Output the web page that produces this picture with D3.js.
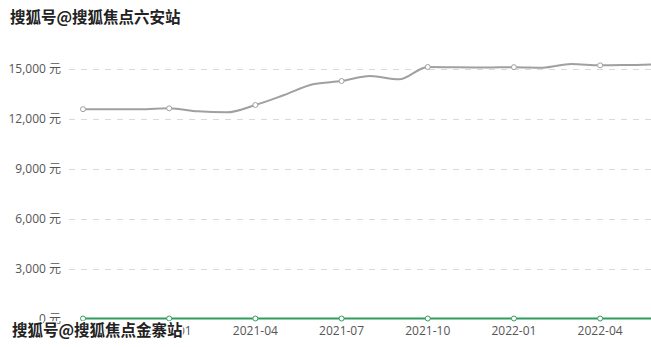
<!DOCTYPE html>
<html>
<head>
<meta charset="utf-8">
<script src="https://cdn.jsdelivr.net/npm/d3@7"></script>
<style>
  body { margin: 0; background: #fff; }
  svg { display: block; font-family: "Open Sans", "Noto Sans CJK SC", sans-serif; }
</style>
</head>
<body>
<div id="chart"></div>
<script>
// monthly data, 2020-10 .. 2022-06
var months = ["2020-10","2020-11","2020-12","2021-01","2021-02","2021-03","2021-04","2021-05","2021-06",
  "2021-07","2021-08","2021-09","2021-10","2021-11","2021-12","2022-01","2022-02","2022-03","2022-04","2022-05","2022-06"];
var priceA = [12560,12560,12550,12610,12430,12370,12810,13410,14050,14250,14550,14350,15090,15070,15060,15080,15050,15270,15190,15210,15240];
var priceB = [0,0,0,0,0,0,0,0,0,0,0,0,0,0,0,0,0,0,0,0,0];
var yTicks = [0,3000,6000,9000,12000,15000];
var xLabels = ["2020-10","2021-01","2021-04","2021-07","2021-10","2022-01","2022-04"];

var width = 651, height = 347;
var svg = d3.select("#chart").append("svg")
  .attr("width", width).attr("height", height);

// plot area runs past the right edge, like the original screenshot
var x = d3.scalePoint().domain(months).range([83, 657.6]);
var y = d3.scaleLinear().domain([0, 15000]).range([318.5, 68.5]);

// grid
svg.append("g").selectAll("line")
  .data(yTicks.filter(function(d){ return d > 0; }))
  .enter().append("line")
  .attr("x1", 69).attr("x2", width)
  .attr("y1", function(d){ return Math.round(y(d)) + 0.5; })
  .attr("y2", function(d){ return Math.round(y(d)) + 0.5; })
  .attr("stroke", "#d9d9d9").attr("stroke-dasharray", "6,6");

// y labels
svg.append("g").selectAll("text")
  .data(yTicks)
  .enter().append("text")
  .attr("x", 61).attr("y", function(d){ return y(d); })
  .attr("dy", "0.35em").attr("text-anchor", "end")
  .attr("fill", "#555").style("font-size", "12px")
  .text(function(d){ return d3.format(",")(d) + " 元"; });

// x labels
svg.append("g").selectAll("text")
  .data(xLabels)
  .enter().append("text")
  .attr("x", function(d){ return x(d); }).attr("y", 331)
  .attr("dy", "0.35em").attr("text-anchor", "middle")
  .attr("fill", "#555").style("font-size", "12px")
  .text(function(d){ return d; });

var line = d3.line().curve(d3.curveMonotoneX);

function drawSeries(vals, color) {
  var pts = months.map(function(m, i){ return [x(m), y(vals[i])]; });
  svg.append("path").attr("d", line(pts))
    .attr("fill", "none").attr("stroke", color).attr("stroke-width", 2);
  svg.append("g").selectAll("circle")
    .data(pts.filter(function(d, i){ return i % 3 == 0; }))
    .enter().append("circle")
    .attr("cx", function(d){ return d[0]; }).attr("cy", function(d){ return d[1]; })
    .attr("r", 2.5).attr("fill", "#fff").attr("stroke", color).attr("stroke-width", 1);
}
drawSeries(priceA, "#a0a0a0");
drawSeries(priceB, "#2f9e5c");

// watermarks
function mark(txt, xx, yy) {
  svg.append("text").attr("x", xx).attr("y", yy)
    .attr("fill", "#222").attr("stroke", "#fff").attr("stroke-width", 2.5)
    .attr("paint-order", "stroke")
    .style("font-family", "'Noto Sans CJK SC', sans-serif")
    .style("font-size", "15.5px").style("font-weight", "bold")
    .text(txt);
}
mark("搜狐号@搜狐焦点六安站", 10, 23);
mark("搜狐号@搜狐焦点金寨站", 12, 336);
</script>
</body>
</html>
